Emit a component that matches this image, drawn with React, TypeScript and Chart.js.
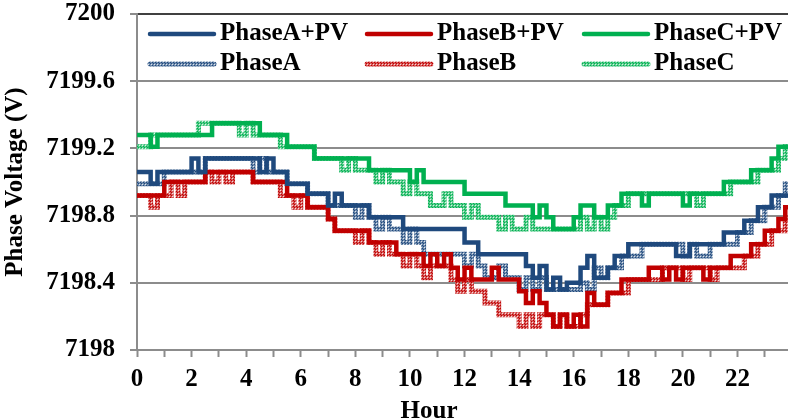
import { useEffect, useRef } from "react";
import { Chart, registerables } from "chart.js";

Chart.register(...registerables);

// Sample times: one reading every 15 minutes, 0:00 .. 24:00
const HOURS: number[] = Array.from({ length: 97 }, (_, i) => i / 4);

const LABELS = ["PhaseA+PV", "PhaseB+PV", "PhaseC+PV", "PhaseA", "PhaseB", "PhaseC"];

// Phase voltages (V), one row per hour, four 15-minute readings each
const PHASE_A_PV = [
  7199.06, 7199.06, 7198.99, 7199.06,
  7199.06, 7199.06, 7199.06, 7199.06,
  7199.14, 7199.06, 7199.14, 7199.14,
  7199.14, 7199.14, 7199.14, 7199.14,
  7199.14, 7199.14, 7199.06, 7199.14,
  7199.06, 7199.06, 7198.99, 7198.99,
  7198.99, 7198.93, 7198.93, 7198.93,
  7198.86, 7198.93, 7198.86, 7198.86,
  7198.86, 7198.86, 7198.79, 7198.79,
  7198.79, 7198.79, 7198.79, 7198.72,
  7198.72, 7198.72, 7198.72, 7198.72,
  7198.72, 7198.72, 7198.72, 7198.72,
  7198.64, 7198.64, 7198.57, 7198.57,
  7198.57, 7198.57, 7198.57, 7198.57,
  7198.57, 7198.50, 7198.43, 7198.50,
  7198.36, 7198.43, 7198.36, 7198.40,
  7198.40, 7198.49, 7198.56, 7198.43,
  7198.43, 7198.49, 7198.56, 7198.56,
  7198.63, 7198.63, 7198.63, 7198.63,
  7198.63, 7198.63, 7198.63, 7198.56,
  7198.56, 7198.63, 7198.63, 7198.63,
  7198.63, 7198.63, 7198.70, 7198.70,
  7198.70, 7198.77, 7198.77, 7198.85,
  7198.85, 7198.92, 7198.92, 7198.92,
  7198.92,
];

const PHASE_B_PV = [
  7198.92, 7198.92, 7198.92, 7198.92,
  7199.00, 7199.00, 7199.00, 7199.00,
  7199.00, 7199.00, 7199.06, 7199.06,
  7199.06, 7199.06, 7199.06, 7199.06,
  7199.06, 7199.00, 7199.00, 7199.00,
  7199.00, 7199.00, 7198.92, 7198.92,
  7198.92, 7198.85, 7198.85, 7198.85,
  7198.78, 7198.71, 7198.71, 7198.71,
  7198.71, 7198.71, 7198.64, 7198.64,
  7198.64, 7198.64, 7198.57, 7198.57,
  7198.57, 7198.57, 7198.50, 7198.57,
  7198.50, 7198.57, 7198.49, 7198.42,
  7198.49, 7198.42, 7198.42, 7198.42,
  7198.49, 7198.42, 7198.42, 7198.42,
  7198.35, 7198.28, 7198.35, 7198.28,
  7198.21, 7198.14, 7198.21, 7198.14,
  7198.21, 7198.14, 7198.34, 7198.27,
  7198.27, 7198.34, 7198.34, 7198.42,
  7198.42, 7198.42, 7198.42, 7198.49,
  7198.49, 7198.42, 7198.49, 7198.42,
  7198.49, 7198.49, 7198.49, 7198.42,
  7198.49, 7198.49, 7198.49, 7198.56,
  7198.56, 7198.56, 7198.63, 7198.63,
  7198.71, 7198.71, 7198.78, 7198.85,
  7198.85,
];

const PHASE_C_PV = [
  7199.28, 7199.28, 7199.21, 7199.28,
  7199.28, 7199.28, 7199.28, 7199.28,
  7199.28, 7199.28, 7199.28, 7199.35,
  7199.35, 7199.35, 7199.35, 7199.35,
  7199.35, 7199.35, 7199.28, 7199.28,
  7199.28, 7199.28, 7199.21, 7199.21,
  7199.21, 7199.21, 7199.14, 7199.14,
  7199.14, 7199.14, 7199.14, 7199.14,
  7199.14, 7199.14, 7199.07, 7199.07,
  7199.07, 7199.07, 7199.07, 7199.07,
  7199.00, 7199.07, 7199.00, 7199.00,
  7199.00, 7199.00, 7199.00, 7199.00,
  7198.93, 7198.93, 7198.93, 7198.93,
  7198.93, 7198.93, 7198.86, 7198.86,
  7198.86, 7198.86, 7198.79, 7198.86,
  7198.79, 7198.72, 7198.72, 7198.72,
  7198.79, 7198.86, 7198.86, 7198.79,
  7198.79, 7198.86, 7198.86, 7198.93,
  7198.93, 7198.93, 7198.86, 7198.93,
  7198.93, 7198.93, 7198.93, 7198.93,
  7198.86, 7198.93, 7198.93, 7198.93,
  7198.93, 7198.93, 7199.00, 7199.00,
  7199.00, 7199.00, 7199.07, 7199.07,
  7199.07, 7199.14, 7199.21, 7199.21,
  7199.21,
];

const PHASE_A = [
  7198.99, 7198.99, 7198.99, 7198.99,
  7199.06, 7199.06, 7199.06, 7199.06,
  7199.06, 7199.06, 7199.14, 7199.14,
  7199.14, 7199.14, 7199.14, 7199.14,
  7199.14, 7199.06, 7199.14, 7199.06,
  7199.06, 7199.06, 7198.99, 7198.99,
  7198.99, 7198.93, 7198.93, 7198.93,
  7198.86, 7198.86, 7198.86, 7198.86,
  7198.79, 7198.86, 7198.79, 7198.72,
  7198.79, 7198.72, 7198.72, 7198.64,
  7198.72, 7198.64, 7198.57, 7198.57,
  7198.57, 7198.57, 7198.57, 7198.57,
  7198.50, 7198.57, 7198.50, 7198.43,
  7198.43, 7198.50, 7198.43, 7198.43,
  7198.36, 7198.43, 7198.36, 7198.43,
  7198.36, 7198.36, 7198.36, 7198.36,
  7198.36, 7198.40, 7198.36, 7198.49,
  7198.43, 7198.49, 7198.49, 7198.56,
  7198.56, 7198.56, 7198.63, 7198.63,
  7198.63, 7198.63, 7198.63, 7198.63,
  7198.56, 7198.63, 7198.56, 7198.56,
  7198.63, 7198.63, 7198.63, 7198.63,
  7198.70, 7198.70, 7198.77, 7198.77,
  7198.85, 7198.85, 7198.92, 7198.99,
  7198.99,
];

const PHASE_B = [
  7198.92, 7198.92, 7198.85, 7198.92,
  7198.92, 7199.00, 7198.92, 7199.00,
  7199.00, 7199.00, 7199.06, 7199.00,
  7199.06, 7199.00, 7199.06, 7199.06,
  7199.06, 7199.00, 7199.00, 7199.00,
  7199.00, 7198.92, 7198.92, 7198.85,
  7198.92, 7198.85, 7198.85, 7198.85,
  7198.78, 7198.71, 7198.71, 7198.71,
  7198.64, 7198.71, 7198.64, 7198.57,
  7198.64, 7198.57, 7198.57, 7198.50,
  7198.57, 7198.50, 7198.43, 7198.50,
  7198.50, 7198.50, 7198.42, 7198.35,
  7198.42, 7198.35, 7198.35, 7198.28,
  7198.28, 7198.21, 7198.21, 7198.21,
  7198.14, 7198.21, 7198.14, 7198.21,
  7198.21, 7198.14, 7198.21, 7198.14,
  7198.14, 7198.21, 7198.27, 7198.27,
  7198.27, 7198.34, 7198.34, 7198.34,
  7198.42, 7198.42, 7198.42, 7198.42,
  7198.42, 7198.49, 7198.49, 7198.49,
  7198.42, 7198.49, 7198.49, 7198.49,
  7198.42, 7198.49, 7198.49, 7198.49,
  7198.49, 7198.56, 7198.56, 7198.63,
  7198.63, 7198.71, 7198.71, 7198.78,
  7198.85,
];

const PHASE_C = [
  7199.21, 7199.21, 7199.28, 7199.28,
  7199.28, 7199.28, 7199.28, 7199.28,
  7199.28, 7199.35, 7199.35, 7199.35,
  7199.35, 7199.35, 7199.35, 7199.28,
  7199.35, 7199.28, 7199.28, 7199.28,
  7199.28, 7199.21, 7199.21, 7199.21,
  7199.21, 7199.21, 7199.14, 7199.14,
  7199.14, 7199.14, 7199.07, 7199.14,
  7199.07, 7199.07, 7199.07, 7199.00,
  7199.07, 7199.00, 7199.00, 7198.93,
  7199.00, 7198.93, 7198.93, 7198.86,
  7198.86, 7198.93, 7198.86, 7198.86,
  7198.79, 7198.86, 7198.79, 7198.79,
  7198.79, 7198.72, 7198.79, 7198.72,
  7198.72, 7198.79, 7198.72, 7198.72,
  7198.72, 7198.72, 7198.72, 7198.72,
  7198.72, 7198.79, 7198.72, 7198.79,
  7198.72, 7198.79, 7198.86, 7198.86,
  7198.93, 7198.93, 7198.93, 7198.93,
  7198.93, 7198.93, 7198.93, 7198.93,
  7198.93, 7198.93, 7198.86, 7198.93,
  7198.93, 7198.93, 7198.93, 7199.00,
  7199.00, 7199.00, 7199.00, 7199.07,
  7199.07, 7199.07, 7199.14, 7199.21,
  7199.21,
];

const Y_MIN = 7198;
const Y_MAX = 7200;
const Y_STEP = 0.4;
const X_MIN = 0;
const X_MAX = 23.85;

const BLUE: [number, number, number] = [31, 73, 125];
const RED: [number, number, number] = [192, 0, 0];
const GREEN: [number, number, number] = [0, 176, 80];

const FONT_FAMILY = "'Times New Roman', 'Liberation Serif', serif";
const AXIS_GRAY = "#8c8c8c";

const rgb = (c: [number, number, number]) => `rgb(${c[0]},${c[1]},${c[2]})`;

// Speckled texture used for the dotted (no-PV) traces
function texture(c: [number, number, number]): CanvasPattern | string {
  const tile = document.createElement("canvas");
  tile.width = 3;
  tile.height = 3;
  const g = tile.getContext("2d");
  if (!g) return rgb(c);
  const mix = (t: number) =>
    `rgb(${Math.round(c[0] + (255 - c[0]) * t)},${Math.round(c[1] + (255 - c[1]) * t)},${Math.round(c[2] + (255 - c[2]) * t)})`;
  g.fillStyle = mix(0.35);
  g.fillRect(0, 0, 3, 3);
  g.fillStyle = mix(0.85);
  g.fillRect(1, 1, 1, 1);
  g.fillStyle = rgb(c);
  g.fillRect(0, 0, 1, 1);
  g.fillRect(2, 2, 1, 1);
  return g.createPattern(tile, "repeat") || rgb(c);
}

// Two-row, three-column legend inside the top of the plot
const gridLegend = {
  id: "gridLegend",
  afterDraw(chart: any) {
    const { ctx } = chart;
    ctx.save();
    ctx.font = `bold 25px ${FONT_FAMILY}`;
    ctx.textBaseline = "middle";
    ctx.textAlign = "left";
    chart.data.datasets.forEach((ds: any, i: number) => {
      const col = i % 3;
      const row = Math.floor(i / 3);
      const x = 150 + col * 217;
      const y = 34 + row * 30;
      ctx.strokeStyle = ds.borderColor;
      ctx.lineWidth = ds.borderWidth;
      ctx.lineCap = "round";
      ctx.beginPath();
      ctx.moveTo(x, y);
      ctx.lineTo(x + 64, y);
      ctx.stroke();
      ctx.fillStyle = "#000";
      ctx.fillText(ds.label, x + 70, y);
    });
    // x-axis title
    ctx.textAlign = "center";
    ctx.textBaseline = "alphabetic";
    ctx.fillText("Hour", 429, 418);
    ctx.restore();
  },
};

export default function App() {
  const canvasRef = useRef<HTMLCanvasElement | null>(null);

  useEffect(() => {
    document.body.style.margin = "0";
    const canvas = canvasRef.current;
    if (!canvas) return;

    const series = [PHASE_A_PV, PHASE_B_PV, PHASE_C_PV, PHASE_A, PHASE_B, PHASE_C];
    const colors = [BLUE, RED, GREEN, BLUE, RED, GREEN];

    const datasets = series.map((values, i) => {
      const dotted = i >= 3;
      return {
        label: LABELS[i],
        data: values.map((v, k) => ({ x: HOURS[k], y: v })),
        borderColor: dotted ? texture(colors[i]) : rgb(colors[i]),
        backgroundColor: rgb(colors[i]),
        borderWidth: dotted ? 5 : 4.5,
        stepped: true as const,
        pointRadius: 0,
        fill: false,
        order: dotted ? 1 : 0,
      };
    });

    const chart = new Chart(canvas, {
      type: "line",
      data: { datasets },
      plugins: [gridLegend],
      options: {
        responsive: false,
        animation: false,
        events: [],
        layout: { padding: { top: 14, right: 0, bottom: 0, left: 0 } },
        plugins: {
          legend: { display: false },
          tooltip: { enabled: false },
        },
        scales: {
          x: {
            type: "linear",
            min: X_MIN,
            max: X_MAX,
            offset: false,
            afterFit: (s: any) => {
              s.height = 70;
              s.paddingLeft = 0;
              s.paddingRight = 0;
            },
            border: { display: true, color: AXIS_GRAY, width: 2 },
            grid: {
              drawOnChartArea: false,
              drawTicks: true,
              tickLength: 7,
              tickColor: AXIS_GRAY,
              tickWidth: 2,
            },
            ticks: {
              stepSize: 1,
              autoSkip: false,
              includeBounds: false,
              maxRotation: 0,
              padding: 8,
              color: "#000",
              font: { family: FONT_FAMILY, size: 25, weight: "bold" },
              callback: (v: any) => (Number(v) % 2 === 0 ? String(v) : ""),
            },
          },
          y: {
            type: "linear",
            min: Y_MIN,
            max: Y_MAX,
            afterFit: (s: any) => {
              s.width = 137;
              s.paddingTop = 0;
              s.paddingBottom = 0;
            },
            border: { display: true, color: AXIS_GRAY, width: 2 },
            grid: {
              color: (c: any) => (c.tick && c.tick.value === Y_MAX ? "#404040" : AXIS_GRAY),
              lineWidth: 2,
              tickLength: 7,
              tickColor: AXIS_GRAY,
              tickWidth: 2,
            },
            title: {
              display: true,
              text: "Phase Voltage (V)",
              color: "#000",
              padding: { top: 1, bottom: 0 },
              font: { family: FONT_FAMILY, size: 25, weight: "bold" },
            },
            ticks: {
              stepSize: Y_STEP,
              padding: 15,
              color: "#000",
              font: { family: FONT_FAMILY, size: 25, weight: "bold" },
              callback: (v: any) => String(Number(Number(v).toFixed(1))),
            },
          },
        },
      },
    } as any);

    return () => chart.destroy();
  }, []);

  return (
    <div style={{ width: 788, height: 420, overflow: "hidden" }}>
      <canvas ref={canvasRef} width={788} height={420} />
    </div>
  );
}
